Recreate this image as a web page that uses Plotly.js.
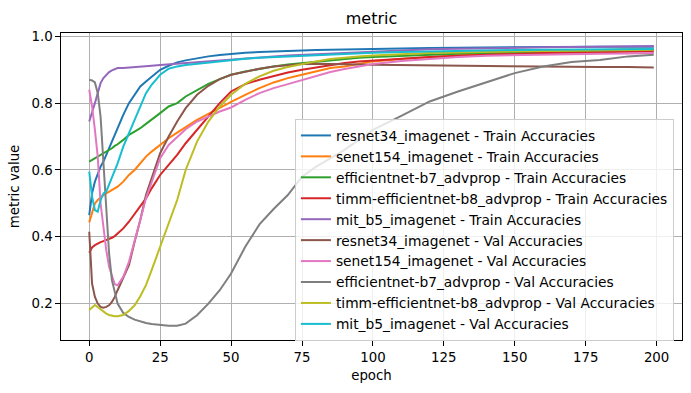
<!DOCTYPE html>
<html>
<head>
<meta charset="utf-8">
<script src="https://cdn.plot.ly/plotly-3.0.1.min.js"></script>
<style>html,body{margin:0;padding:0;background:#fff;}#chart{width:691px;height:393px;}</style>
</head>
<body>
<div id="chart"></div>
<script>
const epochs = [0,1,2,3,4,5,6,7,8,9,10,12,14,16,18,20,22,25,28,31,34,38,42,46,50,55,60,65,70,75,80,85,90,95,100,110,120,130,140,150,160,170,180,190,199];

const seriesNames = [
  "resnet34_imagenet - Train Accuracies",
  "senet154_imagenet - Train Accuracies",
  "efficientnet-b7_advprop - Train Accuracies",
  "timm-efficientnet-b8_advprop - Train Accuracies",
  "mit_b5_imagenet - Train Accuracies",
  "resnet34_imagenet - Val Accuracies",
  "senet154_imagenet - Val Accuracies",
  "efficientnet-b7_advprop - Val Accuracies",
  "timm-efficientnet-b8_advprop - Val Accuracies",
  "mit_b5_imagenet - Val Accuracies"
];

const resnet34Train = [.465,.53,.565,.59,.61,.625,.645,.665,.685,.71,.73,.765,.80,.825,.85,.865,.88,.90,.912,.922,.928,.935,.94,.944,.948,.951,.953,.955,.957,.958,.959,.96,.961,.962,.962,.964,.965,.966,.967,.967,.968,.968,.969,.969,.969];
const senet154Train = [.443,.475,.50,.51,.518,.525,.53,.535,.54,.545,.55,.565,.585,.60,.62,.64,.655,.675,.695,.712,.728,.75,.768,.787,.804,.825,.845,.862,.875,.885,.895,.905,.91,.918,.925,.932,.938,.943,.948,.951,.954,.957,.959,.961,.962];
const effb7Train = [.625,.63,.635,.64,.645,.648,.655,.66,.665,.672,.677,.69,.705,.715,.725,.738,.75,.77,.79,.80,.82,.84,.858,.872,.885,.895,.903,.91,.916,.92,.925,.93,.933,.936,.938,.942,.945,.948,.95,.952,.954,.955,.956,.957,.958];
const timmB8Train = [.352,.368,.375,.38,.384,.387,.39,.393,.397,.402,.41,.425,.445,.468,.49,.515,.545,.585,.615,.645,.68,.72,.76,.80,.835,.857,.87,.882,.892,.90,.907,.915,.92,.925,.928,.933,.938,.942,.945,.947,.95,.951,.953,.954,.955];
const mitB5Train = [.745,.77,.80,.83,.86,.875,.885,.893,.898,.902,.905,.905,.906,.907,.908,.91,.912,.914,.916,.918,.92,.923,.926,.929,.932,.935,.938,.94,.943,.945,.947,.949,.951,.953,.955,.958,.961,.963,.965,.966,.967,.968,.969,.97,.971];
const resnet34Val = [.415,.26,.22,.20,.19,.188,.19,.195,.205,.22,.24,.275,.315,.385,.45,.525,.575,.65,.70,.745,.785,.825,.852,.872,.885,.895,.903,.91,.914,.917,.918,.918,.917,.916,.915,.914,.913,.911,.91,.909,.908,.908,.908,.908,.907];
const senet154Val = [.84,.79,.72,.64,.50,.42,.36,.31,.28,.258,.255,.28,.325,.385,.45,.515,.565,.635,.675,.70,.722,.745,.76,.775,.787,.81,.83,.845,.857,.869,.88,.893,.902,.91,.917,.926,.933,.938,.942,.944,.946,.947,.948,.949,.95];
const effb7Val = [.87,.868,.862,.83,.76,.62,.46,.35,.27,.23,.20,.172,.16,.152,.146,.142,.139,.136,.134,.134,.14,.165,.20,.24,.29,.37,.437,.483,.525,.58,.61,.635,.66,.69,.72,.762,.805,.835,.862,.89,.91,.923,.929,.94,.945];
const timmB8Val = [.181,.19,.196,.19,.183,.176,.17,.166,.163,.162,.162,.166,.178,.195,.222,.255,.30,.37,.44,.51,.60,.685,.745,.79,.825,.858,.88,.897,.908,.917,.925,.932,.937,.94,.943,.947,.95,.952,.954,.955,.956,.957,.958,.959,.96];
const mitB5Val = [.595,.52,.48,.475,.51,.53,.535,.555,.58,.60,.62,.67,.71,.755,.795,.83,.855,.885,.903,.91,.914,.918,.922,.926,.93,.933,.936,.938,.94,.942,.945,.947,.949,.95,.951,.953,.955,.957,.958,.959,.96,.961,.961,.962,.962];

const seriesValues = [resnet34Train, senet154Train, effb7Train, timmB8Train, mitB5Train,
                      resnet34Val, senet154Val, effb7Val, timmB8Val, mitB5Val];
const colors = ["#1f77b4","#ff7f0e","#2ca02c","#d62728","#9467bd","#8c564b","#e377c2","#7f7f7f","#bcbd22","#17becf"];

const xTicks = [0,25,50,75,100,125,150,175,200];
const yTicks = [0.2,0.4,0.6,0.8,1.0];

const traces = seriesNames.map((n,i)=>({
  x: epochs, y: seriesValues[i], name: n, type: 'scatter', mode: 'lines',
  legendgroup: 'g' + i,
  line: {color: colors[i], width: 2}
}));

const font = "DejaVu Sans, sans-serif";
const layout = {
  width: 691, height: 393,
  margin: {l: 61, r: 9, t: 33, b: 53},
  paper_bgcolor: '#fff', plot_bgcolor: '#fff',
  font: {family: font, size: 13.33, color: '#000'},
  title: {text: 'metric', font: {family: font, size: 16, color: '#000'}, x: 0.5, xref: 'paper', xanchor: 'center', y: 0.952, yref: 'container', yanchor: 'middle'},
  showlegend: true,
  legend: {x: 0.987, xanchor: 'right', y: 0.72, yanchor: 'top',
    traceorder: 'grouped', tracegroupgap: 0,
    bgcolor: 'rgba(255,255,255,0.8)', bordercolor: '#cccccc', borderwidth: 1,
    font: {family: font, size: 13.8, color: '#000'}},
  xaxis: {range: [-9.95, 208.95], tickvals: xTicks, ticks: 'outside', ticklen: 4.7, tickcolor: '#000', tickwidth: 1,
    showline: true, mirror: true, linecolor: '#000', linewidth: 1, showgrid: true, gridcolor: '#b0b0b0', gridwidth: 1,
    zeroline: false, title: {text: 'epoch', font: {family: font, size: 13.33}, standoff: 6}},
  yaxis: {range: [0.091, 1.010], tickvals: yTicks, tickformat: '.1f', ticks: 'outside', ticklen: 4.7, tickcolor: '#000', tickwidth: 1,
    showline: true, mirror: true, linecolor: '#000', linewidth: 1, showgrid: true, gridcolor: '#b0b0b0', gridwidth: 1,
    zeroline: false, title: {text: 'metric value', font: {family: font, size: 13.33}, standoff: 8}}
};
Plotly.newPlot('chart', traces, layout, {displayModeBar: false, staticPlot: true});
</script>
</body>
</html>
